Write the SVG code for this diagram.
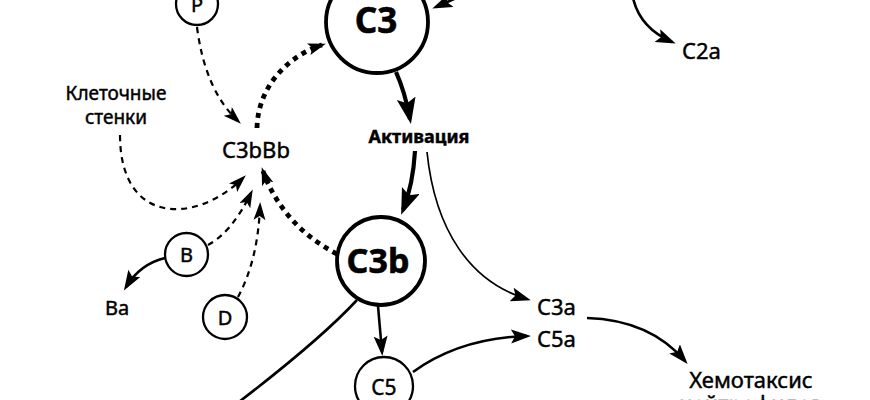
<svg xmlns="http://www.w3.org/2000/svg" width="870" height="400" viewBox="0 0 870 400">
<style>
  text { font-family: "Noto Sans", "Open Sans", sans-serif; fill: #000; stroke: #000; stroke-width: 0.45; }
  .lbl { font-size: 22px; }
  .sm { font-size: 19px; }
  .big { font-size: 35px; font-weight: bold; stroke-width: 0.6; }
  .bold { font-size: 18px; font-weight: bold; }
  .ring { fill: #fff; stroke: #000; stroke-width: 2.3; }
  .ring-big { fill: #fff; stroke: #000; stroke-width: 3.8; }
  .c { fill: none; stroke: #000; }
  .thick { stroke-width: 4.2; }
  .norm { stroke-width: 2.6; }
  .thin { stroke-width: 1.7; }
  .dash { stroke-width: 2.2; stroke-dasharray: 6 5; }
  .dot { stroke-width: 4.8; stroke-dasharray: 5 5; }
</style>
<defs>
  <marker id="ahBig" markerUnits="userSpaceOnUse" markerWidth="28" markerHeight="20" refX="21" refY="9.5" orient="auto">
    <path d="M0,0 L26,9.5 L0,19 L5,9.5 z" fill="#000"/>
  </marker>
  <marker id="ahMid" markerUnits="userSpaceOnUse" markerWidth="22" markerHeight="16" refX="16" refY="7" orient="auto">
    <path d="M0,0 L20,7 L0,14 L4,7 z" fill="#000"/>
  </marker>
  <marker id="ahSm" markerUnits="userSpaceOnUse" markerWidth="20" markerHeight="14" refX="14" refY="6" orient="auto">
    <path d="M0,0 L18,6 L0,12 L4,6 z" fill="#000"/>
  </marker>
</defs>
<rect width="870" height="400" fill="#fff"/>

<g id="connectors">
  <path class="c norm" d="M470,-8 L436,7" marker-end="url(#ahMid)"/>
  <path class="c thick" d="M396,72 Q405,92 410,119" marker-end="url(#ahBig)"/>
  <path class="c thick" d="M415,151 Q413,185 403,210" marker-end="url(#ahBig)"/>
  <path class="c thin" d="M427,152 C435,230 470,282 527,299" marker-end="url(#ahMid)"/>
  <path class="c norm" d="M378,306 L382,352" marker-end="url(#ahMid)"/>
  <path class="c norm" d="M413,372 Q460,338 527,336" marker-end="url(#ahMid)"/>
  <path class="c norm" d="M587,318 Q650,320 685,361" marker-end="url(#ahMid)"/>
  <path class="c norm" d="M357,300 Q320,340 235,405"/>
  <path class="c norm" d="M165,258 Q140,264 126,287" marker-end="url(#ahMid)"/>
  <path class="c norm" d="M633,-2 Q640,28 672,42" marker-end="url(#ahMid)"/>
  <path class="c dash" d="M197,27 Q205,90 238,121" marker-end="url(#ahSm)"/>
  <path class="c dash" d="M120,135 C120,225 195,225 243,178" marker-end="url(#ahSm)"/>
  <path class="c dash" d="M208,245 Q232,232 251,193" marker-end="url(#ahSm)"/>
  <path class="c dash" d="M238,297 Q258,260 260,206" marker-end="url(#ahSm)"/>
  <path class="c dot" d="M257,128 C258,85 290,55 322,45" marker-end="url(#ahSm)"/>
  <path class="c dot" d="M337,254 C300,235 275,205 263,171" marker-end="url(#ahSm)"/>
</g>

<g id="node-P">
  <circle class="ring" cx="197" cy="4" r="21"/>
  <text class="lbl" x="197" y="12" text-anchor="middle" style="font-size:20px">P</text>
</g>
<g id="node-C3">
  <circle class="ring-big" cx="377" cy="22" r="51"/>
  <text class="big" x="376" y="33" text-anchor="middle">C3</text>
</g>
<g id="node-activation">
  <text class="bold" x="419" y="143" text-anchor="middle">Активация</text>
</g>
<g id="node-C3bBb">
  <text class="lbl" x="256" y="158" text-anchor="middle">C3bBb</text>
</g>
<g id="node-walls">
  <text class="sm" x="116" y="100" text-anchor="middle">Клеточные</text>
  <text class="sm" x="116" y="124" text-anchor="middle">стенки</text>
</g>
<g id="node-C3b">
  <circle class="ring-big" cx="381" cy="261" r="44"/>
  <text class="big" x="378" y="273" text-anchor="middle" style="font-size:34px">C3b</text>
</g>
<g id="node-B">
  <circle class="ring" cx="186.5" cy="254.5" r="21.5"/>
  <text class="lbl" x="186.5" y="262" text-anchor="middle" style="font-size:20px">B</text>
</g>
<g id="node-D">
  <circle class="ring" cx="225" cy="317" r="22"/>
  <text class="lbl" x="225" y="325" text-anchor="middle" style="font-size:20px">D</text>
</g>
<g id="node-Ba">
  <text class="lbl" x="105" y="315" style="font-size:20px">Ba</text>
</g>
<g id="node-C5">
  <circle class="ring" cx="384" cy="386" r="29"/>
  <text class="lbl" x="384" y="395" text-anchor="middle" style="font-size:21px">C5</text>
</g>
<g id="node-C3a">
  <text class="lbl" x="537" y="315">C3a</text>
</g>
<g id="node-C5a">
  <text class="lbl" x="537" y="347">C5a</text>
</g>
<g id="node-C2a">
  <text class="lbl" x="682" y="59">C2a</text>
</g>
<g id="node-chemotaxis">
  <text class="lbl" x="751" y="388" text-anchor="middle">Хемотаксис</text>
  <text class="lbl" x="751" y="412" text-anchor="middle">нейтрофилов</text>
</g>
</svg>
